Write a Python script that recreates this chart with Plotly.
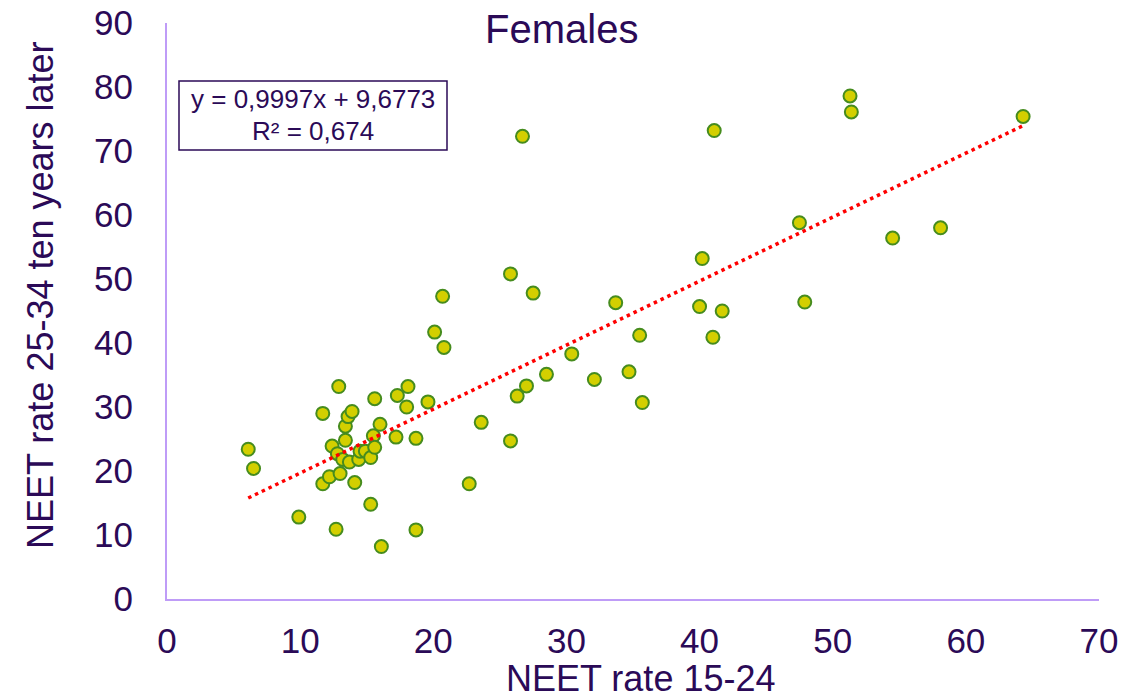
import plotly.graph_objects as go

# NEET rate 15-24 (x) and NEET rate 25-34 ten years later (y)
neet_15_24 = [6.1, 6.5, 9.9, 11.7, 11.7, 12.2, 12.4, 12.7, 12.8, 12.9,
              13.0, 13.2, 13.4, 13.4, 13.6, 13.7, 13.9, 14.1, 14.4, 14.5,
              14.9, 15.3, 15.3, 15.5, 15.6, 15.6, 16.0, 16.1, 17.2, 17.3,
              18.0, 18.1, 18.7, 18.7, 19.6, 20.1, 20.7, 20.8, 22.7, 23.6,
              25.8, 25.8, 26.3, 26.7, 27.0, 27.5, 28.5, 30.4, 32.1, 33.7,
              34.7, 35.5, 35.7, 40.0, 40.2, 41.0, 41.1, 41.7, 47.5, 47.9,
              51.3, 51.4, 54.5, 58.1, 64.3]
neet_25_34_later = [23.4, 20.4, 12.8, 18.0, 29.0, 19.1, 23.9, 10.9, 22.7, 33.2,
                    19.6, 21.8, 24.8, 27.0, 28.5, 21.4, 29.3, 18.2, 21.8, 23.1,
                    23.1, 22.1, 14.8, 25.5, 23.7, 31.3, 27.3, 8.2, 25.3, 31.8,
                    30.0, 33.2, 25.1, 10.8, 30.8, 41.7, 47.3, 39.3, 18.0, 27.6,
                    24.7, 50.8, 31.7, 72.3, 33.3, 47.8, 35.1, 38.3, 34.3, 46.3,
                    35.5, 41.2, 30.7, 45.7, 53.2, 40.9, 73.2, 45.0, 58.8, 46.4,
                    78.6, 76.1, 56.4, 58.0, 75.4]

trend_slope = 0.9997
trend_intercept = 9.6773
r_squared = "0,674"

x_ticks = [0, 10, 20, 30, 40, 50, 60, 70]
y_ticks = [0, 10, 20, 30, 40, 50, 60, 70, 80, 90]

title_text = "Females"
x_title = "NEET rate 15-24"
y_title = "NEET rate 25-34 ten years later"

FONT = "Liberation Sans, Arial, sans-serif"
TXT = "#2B0A57"
AXIS = "#BF9CF7"

# plot area in page pixels
PL, PR, PT, PB = 167, 1099, 23, 599
PW, PH = PR - PL, PB - PT


def px(x):
    return (x - PL) / PW


def py(y):
    return (PB - y) / PH


x_min, x_max = min(neet_15_24), max(neet_15_24)
trend_x = [x_min, x_max]
trend_y = [trend_slope * v + trend_intercept for v in trend_x]

fig = go.Figure()
fig.add_trace(go.Scatter(
    x=neet_15_24, y=neet_25_34_later, mode="markers",
    marker=dict(size=13, color="#D3CF00", line=dict(color="#468C1E", width=2)),
    showlegend=False, hoverinfo="x+y"))
fig.add_trace(go.Scatter(
    x=trend_x, y=trend_y, mode="lines",
    line=dict(color="#FF0000", width=3.5, dash="3.5px,4px"),
    showlegend=False, hoverinfo="skip"))

fig.update_layout(
    width=1146, height=699,
    margin=dict(l=PL, r=1146 - PR, t=PT, b=699 - PB, autoexpand=False),
    paper_bgcolor="white", plot_bgcolor="white",
    font=dict(family=FONT, color=TXT, size=35),
    xaxis=dict(range=[0, 70], tickvals=x_ticks, showgrid=False, zeroline=False,
               showline=True, linecolor=AXIS, linewidth=2, ticks="", automargin=False,
               ticklabelstandoff=10, tickfont=dict(size=35, color=TXT, family=FONT)),
    yaxis=dict(range=[0, 90], tickvals=y_ticks, showgrid=False, zeroline=False,
               showline=True, linecolor=AXIS, linewidth=2, ticks="", automargin=False,
               ticklabelstandoff=25, tickfont=dict(size=35, color=TXT, family=FONT)),
    shapes=[dict(type="rect", xref="paper", yref="paper",
                 x0=px(179), x1=px(447), y0=py(150), y1=py(81),
                 line=dict(color=TXT, width=1.5), fillcolor="white", layer="above")],
    annotations=[
        dict(text=title_text, xref="paper", yref="paper", x=px(561.5),
             y=py(29), xanchor="center", yanchor="middle", showarrow=False,
             font=dict(size=40, color=TXT, family=FONT)),
        dict(text=f"y = {str(trend_slope).replace('.', ',')}x + {str(trend_intercept).replace('.', ',')}",
             xref="paper", yref="paper", x=px(313), y=py(99),
             xanchor="center", yanchor="middle", showarrow=False,
             font=dict(size=26, color=TXT, family=FONT)),
        dict(text=f"R² = {r_squared}",
             xref="paper", yref="paper", x=px(313), y=py(131),
             xanchor="center", yanchor="middle", showarrow=False,
             font=dict(size=26, color=TXT, family=FONT)),
        dict(text=x_title, xref="paper", yref="paper", x=px(640),
             y=py(678), xanchor="center", yanchor="middle", showarrow=False,
             font=dict(size=36, color=TXT, family=FONT)),
        dict(text=y_title, xref="paper", yref="paper", x=px(40),
             y=py(295), xanchor="center", yanchor="middle", showarrow=False,
             textangle=-90, font=dict(size=36, color=TXT, family=FONT)),
    ],
)

fig.write_html("out.html", config={"displayModeBar": False},
               post_script="document.body.style.margin='0';")
